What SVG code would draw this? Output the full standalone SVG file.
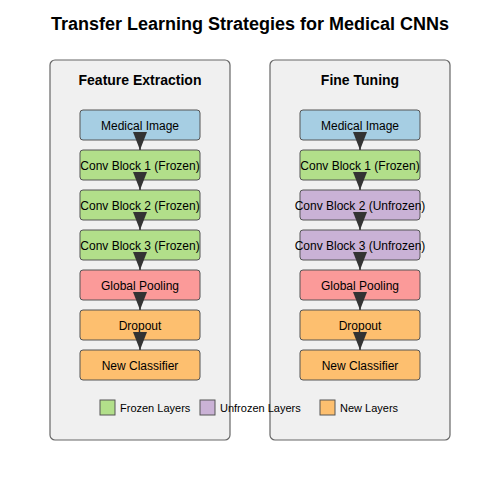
<svg xmlns="http://www.w3.org/2000/svg" width="500" height="500" viewBox="0 0 500 500">
<defs>
<style>
text{font-family:"Liberation Sans",Arial,sans-serif;fill:#000}
.title{font-size:18px;font-weight:bold;text-anchor:middle}
.ptitle{font-size:14px;font-weight:bold;text-anchor:middle}
.lbl{font-size:12px;text-anchor:middle}
.leg{font-size:11px}
.panel{fill:#f0f0f0;stroke:#666;stroke-width:1.2}
.box{stroke:#555;stroke-width:1}
.blue{fill:#a6cee3}.green{fill:#b2df8a}.purple{fill:#cab2d6}.red{fill:#fb9a99}.orange{fill:#fdbf6f}
.conn line{stroke:#333;stroke-width:1.5}
.conn polygon{fill:#333}
</style>
</defs>
<rect width="500" height="500" fill="#fff"/>
<text class="title" x="250" y="30">Transfer Learning Strategies for Medical CNNs</text>
<g id="panel-fe">
<rect class="panel" x="50" y="60" width="180" height="380" rx="5"/>
<text class="ptitle" x="140" y="85">Feature Extraction</text>
</g>
<g id="panel-ft">
<rect class="panel" x="270" y="60" width="180" height="380" rx="5"/>
<text class="ptitle" x="360" y="85">Fine Tuning</text>
</g>
<g id="fe-1"><rect class="box blue" x="80" y="110" width="120" height="30" rx="3"/><text class="lbl" x="140" y="130">Medical Image</text></g>
<g id="fe-2"><rect class="box green" x="80" y="150" width="120" height="30" rx="3"/><text class="lbl" x="140" y="170">Conv Block 1 (Frozen)</text></g>
<g id="fe-3"><rect class="box green" x="80" y="190" width="120" height="30" rx="3"/><text class="lbl" x="140" y="210">Conv Block 2 (Frozen)</text></g>
<g id="fe-4"><rect class="box green" x="80" y="230" width="120" height="30" rx="3"/><text class="lbl" x="140" y="250">Conv Block 3 (Frozen)</text></g>
<g id="fe-5"><rect class="box red" x="80" y="270" width="120" height="30" rx="3"/><text class="lbl" x="140" y="290">Global Pooling</text></g>
<g id="fe-6"><rect class="box orange" x="80" y="310" width="120" height="30" rx="3"/><text class="lbl" x="140" y="330">Dropout</text></g>
<g id="fe-7"><rect class="box orange" x="80" y="350" width="120" height="30" rx="3"/><text class="lbl" x="140" y="370">New Classifier</text></g>
<g id="ft-1"><rect class="box blue" x="300" y="110" width="120" height="30" rx="3"/><text class="lbl" x="360" y="130">Medical Image</text></g>
<g id="ft-2"><rect class="box green" x="300" y="150" width="120" height="30" rx="3"/><text class="lbl" x="360" y="170">Conv Block 1 (Frozen)</text></g>
<g id="ft-3"><rect class="box purple" x="300" y="190" width="120" height="30" rx="3"/><text class="lbl" x="360" y="210">Conv Block 2 (Unfrozen)</text></g>
<g id="ft-4"><rect class="box purple" x="300" y="230" width="120" height="30" rx="3"/><text class="lbl" x="360" y="250">Conv Block 3 (Unfrozen)</text></g>
<g id="ft-5"><rect class="box red" x="300" y="270" width="120" height="30" rx="3"/><text class="lbl" x="360" y="290">Global Pooling</text></g>
<g id="ft-6"><rect class="box orange" x="300" y="310" width="120" height="30" rx="3"/><text class="lbl" x="360" y="330">Dropout</text></g>
<g id="ft-7"><rect class="box orange" x="300" y="350" width="120" height="30" rx="3"/><text class="lbl" x="360" y="370">New Classifier</text></g>
<g id="connectors" class="conn">
<line x1="140" y1="140" x2="140" y2="150"/><polygon points="133,132 147,132 140,150"/>
<line x1="140" y1="180" x2="140" y2="190"/><polygon points="133,172 147,172 140,190"/>
<line x1="140" y1="220" x2="140" y2="230"/><polygon points="133,212 147,212 140,230"/>
<line x1="140" y1="260" x2="140" y2="270"/><polygon points="133,252 147,252 140,270"/>
<line x1="140" y1="300" x2="140" y2="310"/><polygon points="133,292 147,292 140,310"/>
<line x1="140" y1="340" x2="140" y2="350"/><polygon points="133,332 147,332 140,350"/>
<line x1="360" y1="140" x2="360" y2="150"/><polygon points="353,132 367,132 360,150"/>
<line x1="360" y1="180" x2="360" y2="190"/><polygon points="353,172 367,172 360,190"/>
<line x1="360" y1="220" x2="360" y2="230"/><polygon points="353,212 367,212 360,230"/>
<line x1="360" y1="260" x2="360" y2="270"/><polygon points="353,252 367,252 360,270"/>
<line x1="360" y1="300" x2="360" y2="310"/><polygon points="353,292 367,292 360,310"/>
<line x1="360" y1="340" x2="360" y2="350"/><polygon points="353,332 367,332 360,350"/>
</g>
<g id="legend">
<rect class="box green" x="100" y="400" width="15" height="15"/><text class="leg" x="120" y="412">Frozen Layers</text>
<rect class="box purple" x="200" y="400" width="15" height="15"/><text class="leg" x="220" y="412">Unfrozen Layers</text>
<rect class="box orange" x="320" y="400" width="15" height="15"/><text class="leg" x="340" y="412">New Layers</text>
</g>
</svg>
